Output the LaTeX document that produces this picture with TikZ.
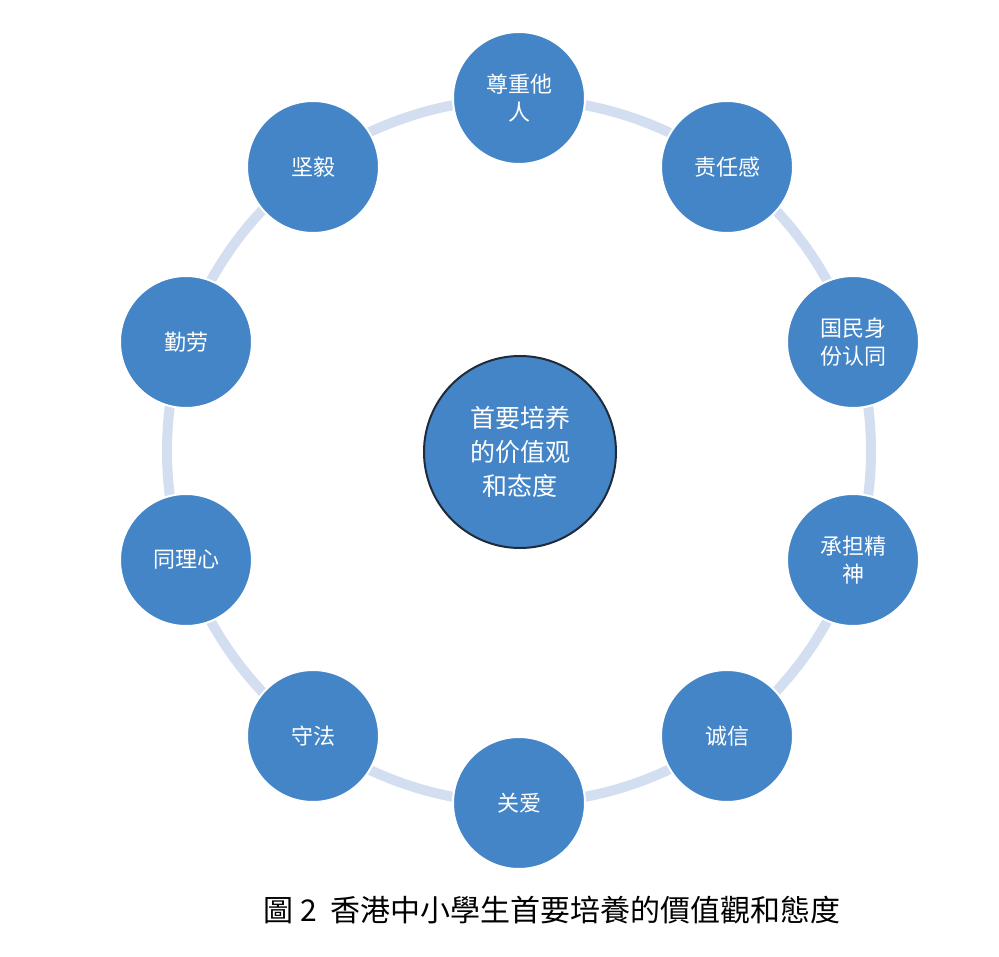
\documentclass[tikz,border=0pt]{standalone}
\usepackage{fontspec}
\newfontfamily\cjk{Noto Sans CJK SC}
\newfontfamily\cjktc{Noto Sans CJK TC}
\definecolor{ringc}{HTML}{D3DFF1}
\definecolor{bub}{HTML}{4485C7}
\definecolor{edge}{HTML}{1F2A3A}
\begin{document}
\begin{tikzpicture}[x=1pt,y=-1pt,
  bubble/.style={circle,fill=bub,draw=white,line width=2pt,minimum size=132pt,inner sep=0pt,text=white,font=\cjk\fontsize{22}{28}\selectfont,align=center},
  hub/.style={circle,fill=bub,draw=edge,line width=2pt,minimum size=192pt,inner sep=0pt,text=white,font=\cjk\fontsize{25}{34}\selectfont,align=center}]
\useasboundingbox (0,0) rectangle (999,957);
\coordinate (rc) at (519,451);
\draw[ringc,line width=10pt] (rc) circle (352);
\node[bubble] (n1) at (519,98) {尊重他\\人};
\node[bubble] (n2) at (727,167) {责任感};
\node[bubble] (n3) at (853,342) {国民身\\份认同};
\node[bubble] (n4) at (853,560) {承担精\\神};
\node[bubble] (n5) at (727,736) {诚信};
\node[bubble] (n6) at (519,803) {关爱};
\node[bubble] (n7) at (313,736) {守法};
\node[bubble] (n8) at (186,560) {同理心};
\node[bubble] (n9) at (186,342) {勤劳};
\node[bubble] (n10) at (313,167) {坚毅};
\node[hub] (c) at (520,452) {首要培养\\的价值观\\和态度};
\node[font=\cjktc\fontsize{30}{36}\selectfont,anchor=center] (cap) at (552,910) {圖 2\ \ 香港中小學生首要培養的價值觀和態度};
\end{tikzpicture}
\end{document}
